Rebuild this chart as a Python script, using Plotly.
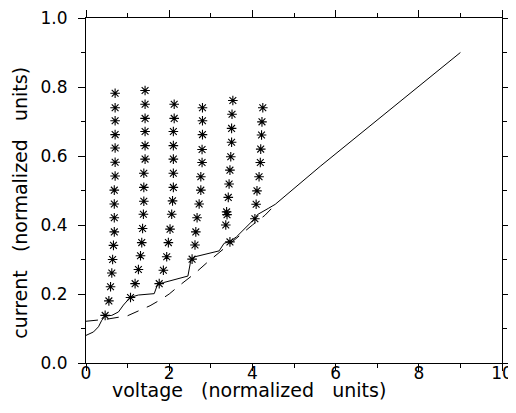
import plotly.graph_objects as go

# Solid curve (measured I-V)
solid_v = [0, 0.18, 0.30, 0.38, 0.46, 0.62, 0.78, 0.90, 1.06, 1.26, 1.64, 1.72, 1.86, 2.26, 2.45,
           2.52, 2.62, 3.20, 3.32, 3.46, 3.62, 4.06, 4.12, 4.38, 4.55, 5.63, 9.0]
solid_i = [0.080, 0.090, 0.105, 0.124, 0.136, 0.138, 0.148, 0.168, 0.190, 0.197, 0.201, 0.228, 0.233,
           0.245, 0.252, 0.298, 0.308, 0.325, 0.347, 0.352, 0.366, 0.419, 0.430, 0.448, 0.460, 0.570, 0.900]

# Dashed curve
dash_v = [0, 0.5, 1.0, 1.3, 1.54, 1.8, 2.0, 2.26, 2.6, 2.9, 3.3, 3.6, 4.0, 4.30, 4.55]
dash_i = [0.121, 0.127, 0.137, 0.152, 0.166, 0.184, 0.200, 0.226, 0.258, 0.290, 0.330, 0.362,
          0.400, 0.428, 0.459]

# Star columns
star1_v = [0.70, 0.70, 0.70, 0.70, 0.70, 0.70, 0.70, 0.68, 0.68, 0.68, 0.68, 0.66, 0.64, 0.62, 0.59, 0.55, 0.46]
star1_i = [0.782, 0.740, 0.702, 0.662, 0.623, 0.582, 0.542, 0.501, 0.461, 0.421, 0.380, 0.341, 0.300,
           0.261, 0.221, 0.180, 0.138]
star2_v = [1.42, 1.42, 1.42, 1.42, 1.42, 1.42, 1.39, 1.39, 1.39, 1.38, 1.36, 1.34, 1.31, 1.26, 1.18, 1.07]
star2_i = [0.790, 0.750, 0.709, 0.671, 0.630, 0.591, 0.550, 0.509, 0.469, 0.431, 0.390, 0.349, 0.311,
           0.271, 0.230, 0.190]
star3_v = [2.12, 2.12, 2.10, 2.10, 2.10, 2.10, 2.10, 2.08, 2.06, 2.02, 1.98, 1.94, 1.86, 1.76]
star3_i = [0.750, 0.709, 0.671, 0.630, 0.591, 0.550, 0.509, 0.470, 0.431, 0.388, 0.349, 0.308, 0.269, 0.230]
star4_v = [2.80, 2.80, 2.80, 2.79, 2.79, 2.76, 2.76, 2.72, 2.67, 2.64, 2.62, 2.55]
star4_i = [0.740, 0.702, 0.662, 0.619, 0.581, 0.540, 0.501, 0.461, 0.421, 0.380, 0.342, 0.301]
star5_v = [3.53, 3.51, 3.50, 3.50, 3.48, 3.46, 3.44, 3.42, 3.38, 3.39, 3.36, 3.46]
star5_i = [0.761, 0.721, 0.680, 0.640, 0.598, 0.559, 0.519, 0.480, 0.438, 0.430, 0.400, 0.351]
star6_v = [4.25, 4.23, 4.22, 4.20, 4.19, 4.16, 4.11, 4.09, 4.06]
star6_i = [0.740, 0.699, 0.661, 0.620, 0.581, 0.540, 0.499, 0.460, 0.418]

x_ticks = [0, 2, 4, 6, 8, 10]
y_ticks = [0.0, 0.2, 0.4, 0.6, 0.8, 1.0]

FONT = "DejaVu Sans"
SP = "\u00a0\u00a0 "

fig = go.Figure()
fig.add_trace(go.Scatter(x=dash_v, y=dash_i, mode="lines",
                         line=dict(color="black", width=1, dash="12px,9px")))
fig.add_trace(go.Scatter(x=solid_v, y=solid_i, mode="lines",
                         line=dict(color="black", width=1)))
stars_x = star1_v + star2_v + star3_v + star4_v + star5_v + star6_v
stars_y = star1_i + star2_i + star3_i + star4_i + star5_i + star6_i
fig.add_trace(go.Scatter(x=stars_x, y=stars_y, mode="markers",
                         marker=dict(symbol="asterisk-open", size=8, color="black",
                                     line=dict(color="black", width=1.1))))

axis_common = dict(showline=True, linecolor="black", linewidth=1, mirror="ticks",
                   ticks="outside", ticklen=7, tickwidth=1, tickcolor="black",
                   showgrid=False, zeroline=False, automargin=False,
                   ticklabeloverflow="allow",
                   tickfont=dict(family=FONT, size=17, color="black"))

fig.update_xaxes(range=[0, 10], tickvals=x_ticks, ticktext=[str(v) for v in x_ticks],
                 minor=dict(dtick=1, ticks="outside", ticklen=4, tickcolor="black", tickwidth=1),
                 ticklabelstandoff=-12, **axis_common)
fig.update_yaxes(range=[0, 1], tickvals=y_ticks, ticktext=[f"{v:.1f}" for v in y_ticks],
                 minor=dict(dtick=0.1, ticks="outside", ticklen=4, tickcolor="black", tickwidth=1),
                 ticklabelstandoff=7, **axis_common)

fig.add_annotation(text="voltage" + SP + "(normalized" + SP + "units)", xref="paper", yref="paper",
                   x=0.392, y=-0.078, xanchor="center", yanchor="middle", showarrow=False,
                   font=dict(family=FONT, size=19, color="black"))
fig.add_annotation(text="current" + SP + "(normalized" + SP + "units)", xref="paper", yref="paper",
                   x=-0.159, y=0.464, xanchor="center", yanchor="middle", showarrow=False,
                   textangle=-90, font=dict(family=FONT, size=19, color="black"))

fig.update_layout(width=516, height=413, showlegend=False,
                  margin=dict(l=78, r=22, t=10, b=58, pad=0),
                  paper_bgcolor="white", plot_bgcolor="white")

fig.write_html("out.html")
